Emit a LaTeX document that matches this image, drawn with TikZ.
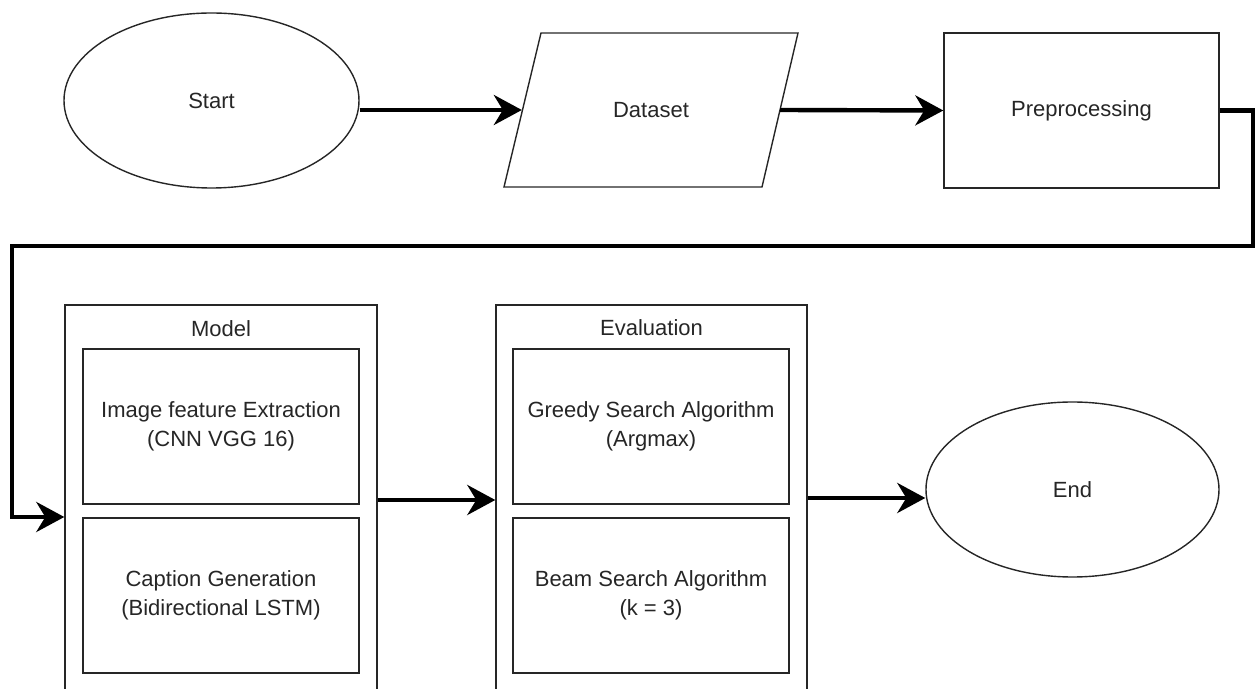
\documentclass[tikz,border=0pt]{standalone}
\usepackage{fontspec}
\setmainfont{Liberation Sans}
\usetikzlibrary{arrows.meta,shapes.geometric,calc}
\begin{document}
\begin{tikzpicture}[x=0.5pt,y=-0.5pt,
  every node/.style={font=\fontsize{11}{14.5}\selectfont, text=black!85, align=center},
  shp/.style={draw=black!85, line width=0.7pt, inner sep=0pt},
  box/.style={shp, rectangle},
  oval/.style={shp, ellipse},
  conn/.style={line width=2.2pt, draw=black, -{Stealth[length=14pt,width=15pt,inset=4.5pt]}},
]
\useasboundingbox (0,0) rectangle (1255,689);
\clip (0,0) rectangle (1255,689);

% top row
\node[oval, minimum width=147.5pt, minimum height=87.5pt] (start) at (211.5,100.5) {Start};
\draw[draw=black!85, line width=0.7pt] (504,187) -- (541,33) -- (798,33) -- (762,187) -- cycle;
\node[rectangle, inner sep=0pt, minimum width=128.75pt, minimum height=77pt] (data) at (651,110) {Dataset};
\node[box, minimum width=137.5pt, minimum height=77.5pt] (pre) at (1081.5,110.5) {Preprocessing};

% Model group
\node[box, minimum width=156pt, minimum height=195pt] (model) at (221,500) {};
\node (modeltitle) at (221,329) {Model};
\node[box, minimum width=138pt, minimum height=77.5pt] (m1) at (221,426.5) {Image feature Extraction\\(CNN VGG 16)};
\node[box, minimum width=138pt, minimum height=77.5pt] (m2) at (221,595.5) {Caption Generation\\(Bidirectional LSTM)};

% Evaluation group
\node[box, minimum width=155.5pt, minimum height=195pt] (eval) at (651.5,500) {};
\node (evaltitle) at (651.5,328) {Evaluation};
\node[box, minimum width=138pt, minimum height=77.5pt] (e1) at (651,426.5) {Greedy Search Algorithm\\(Argmax)};
\node[box, minimum width=138pt, minimum height=77.5pt] (e2) at (651,595.5) {Beam Search Algorithm\\(k = 3)};

% End
\node[oval, minimum width=146.5pt, minimum height=87.5pt] (end) at (1072.5,489.5) {End};

% connectors
\coordinate (c1) at (1253,110.5);
\coordinate (c2) at (1253,246);
\coordinate (c3) at (12,246);
\coordinate (c4) at (12,517);
\coordinate (ey) at (0,498);
\draw[conn] (start.east |- data.west) -- (data.west);
\draw[conn] (data.east) -- (pre.west);
\draw[conn] (pre.east) -- (c1) -- (c2) -- (c3) -- (c4) -- (model.west |- c4);
\draw[conn] (model.east) -- (eval.west);
\draw[conn] (eval.east |- ey) -- (end.west |- ey);
\end{tikzpicture}
\end{document}
